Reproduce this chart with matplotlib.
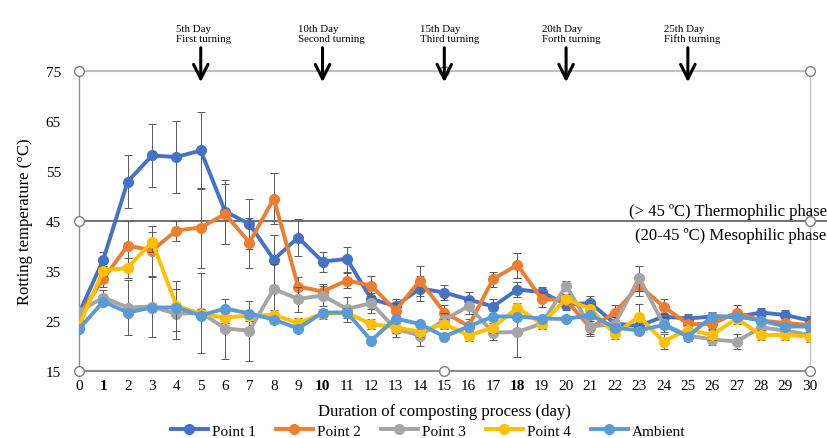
import numpy as np
import matplotlib
matplotlib.use('Agg')
import matplotlib.pyplot as plt

plt.rcParams['font.family'] = ['Liberation Serif', 'DejaVu Serif']

days = list(range(31))
p1 = [26.5, 37.3, 52.9, 58.1, 57.8, 59.1, 46.9, 44.4, 37.3, 41.7, 36.9, 37.4, 29.4, 28.0, 31.5, 30.7,
      29.3, 27.9, 31.3, 30.8, 28.3, 28.6, 24.5, 24.0, 25.9, 25.5, 25.9, 25.8, 26.7, 26.2, 25.1]
p2 = [26.2, 33.4, 40.1, 39.1, 43.1, 43.7, 46.4, 40.7, 49.5, 31.9, 30.9, 33.1, 32.1, 27.1, 33.1, 26.7,
      24.0, 33.4, 36.2, 29.4, 29.2, 23.6, 26.7, 32.1, 27.9, 24.4, 24.4, 26.7, 25.1, 24.6, 24.2]
p3 = [26.9, 29.7, 27.7, 27.9, 26.4, 26.7, 23.5, 23.1, 31.4, 29.4, 30.1, 27.4, 28.6, 23.4, 22.1, 25.2,
      28.0, 22.7, 22.8, 24.5, 32.0, 23.9, 24.4, 33.6, 24.4, 22.1, 21.3, 20.9, 23.7, 23.1, 22.2]
p4 = [24.1, 35.1, 35.6, 40.9, 28.1, 26.4, 25.7, 26.1, 26.2, 24.6, 26.5, 26.6, 24.4, 23.7, 22.9, 24.4,
      22.1, 23.7, 27.7, 24.4, 29.4, 27.4, 22.4, 25.9, 20.9, 23.3, 22.2, 25.5, 22.2, 22.2, 21.9]
amb = [23.4, 28.9, 26.7, 27.7, 27.7, 26.1, 27.5, 26.5, 25.3, 23.5, 26.7, 26.7, 21.1, 25.5, 24.4, 21.9,
       23.9, 25.9, 25.9, 25.5, 25.4, 26.2, 23.7, 23.1, 24.2, 21.9, 25.9, 25.9, 25.1, 23.9, 23.9]

e1 = [1.0, 1.5, 5.3, 6.2, 7.2, 7.7, 6.4, 5.0, 5.0, 3.7, 2.0, 2.5, 2.0, 1.5, 2.5, 1.5,
      1.5, 1.5, 1.5, 1.0, 1.0, 1.5, 1.5, 1.5, 1.5, 1.0, 1.0, 1.0, 1.0, 1.0, 1.0]
e2 = [1.0, 1.5, 5.0, 5.0, 2.0, 8.0, 6.0, 5.0, 5.1, 2.0, 1.5, 1.5, 2.0, 1.5, 3.0, 1.5,
      1.5, 1.5, 2.5, 1.5, 1.0, 1.5, 1.5, 2.0, 1.5, 1.0, 1.0, 1.5, 1.0, 1.0, 1.0]
e3 = [1.0, 1.5, 5.5, 6.0, 5.0, 8.0, 6.0, 6.0, 5.0, 2.5, 2.0, 2.5, 2.0, 1.5, 2.0, 1.5,
      1.5, 1.5, 5.0, 1.0, 1.0, 1.5, 1.5, 2.5, 1.5, 1.0, 1.0, 1.5, 1.0, 1.0, 1.0]
e4 = [1.0, 1.0, 2.0, 2.0, 5.0, 1.0, 1.0, 1.0, 1.0, 1.0, 1.0, 1.0, 1.0, 1.0, 1.0, 1.0,
      1.0, 1.0, 1.0, 1.0, 1.0, 1.0, 1.0, 2.5, 1.5, 1.0, 1.0, 1.0, 1.0, 1.0, 1.0]

names = ['Point 1', 'Point 2', 'Point 3', 'Point 4', 'Ambient']
colors = ['#4472C4', '#ED7D31', '#A5A5A5', '#FFC000', '#5B9BD5']
turn_days = [5, 10, 15, 20, 25]
turn_labels = ['5th Day\nFirst turning', '10th Day\nSecond turning', '15th Day\nThird turning',
               '20th Day\nForth turning', '25th Day\nFifth turning']

fig = plt.figure(figsize=(8.27, 4.39), dpi=100)
ax = fig.add_axes([0.0955, 0.1526, 0.8835, 0.6834])

series = [p1, p2, p3, p4, amb]
errs = [e1, e2, e3, e4, None]
for i, (vals, err) in enumerate(zip(series, errs)):
    if err is not None:
        ax.errorbar(days, vals, yerr=err, fmt='none', ecolor='#595959', elinewidth=0.7,
                    capsize=3, capthick=0.7, zorder=2 + i)
    ax.plot(days, vals, color=colors[i], lw=2.8, marker='o', ms=7, label=names[i], zorder=3 + i)

ax.set_xlim(0, 30)
ax.set_ylim(15, 75)
ax.set_yticks([15, 25, 35, 45, 55, 65, 75])
ax.set_xticks(days)
ax.tick_params(length=0, labelsize=11, pad=6)
ax.tick_params(axis='y', pad=13)
for lab in ax.get_xticklabels():
    if lab.get_text() in ('1', '10', '18'):
        lab.set_fontweight('bold')

for s in ['top', 'right', 'left', 'bottom']:
    ax.spines[s].set_color('#bfbfbf')
    ax.spines[s].set_linewidth(1.0)
ax.spines['left'].set_color('#8c8c8c')
ax.spines['bottom'].set_color('#8c8c8c')
ax.spines['bottom'].set_linewidth(1.5)
ax.spines['top'].set_linewidth(1.5)

# phase boundary
ax.plot([0, 31.0], [45, 45], color='#595959', lw=1.2, clip_on=False, zorder=1)

# selection handles
hx = [0, 15, 30, 0, 30, 0, 15, 30]
hy = [75, 75, 75, 45, 45, 15, 15, 15]
ax.plot(hx, hy, ls='none', marker='o', ms=7, mfc='white', mec='#7f7f7f', mew=1.0,
        clip_on=False, zorder=10)

ax.text(30.7, 47.0, '(> 45 ºC) Thermophilic phase', fontsize=12, ha='right', va='center')
ax.text(30.7, 42.2, '(20-45 ºC) Mesophilic phase', fontsize=12, ha='right', va='center')

for d, lab in zip(turn_days, turn_labels):
    ax.annotate('', xy=(d, 72.2), xytext=(d, 80.2), annotation_clip=False, zorder=12,
                arrowprops=dict(arrowstyle='->', lw=2.2, color='black', mutation_scale=26))
    ax.text(d - 1.0, 80.6, lab, fontsize=7.8, ha='left', va='bottom', linespacing=1.1)

ax.set_ylabel('Rotting temperature (°C)', fontsize=12, labelpad=9)
ax.set_xlabel('Duration of composting process (day)', fontsize=12, labelpad=8)

fig.legend(loc='center', bbox_to_anchor=(0.518, 0.016), ncol=5, frameon=False, fontsize=11,
           handlelength=2.4, columnspacing=1.3, handletextpad=0.3, borderaxespad=0)

fig.savefig('out.png', dpi=100)
